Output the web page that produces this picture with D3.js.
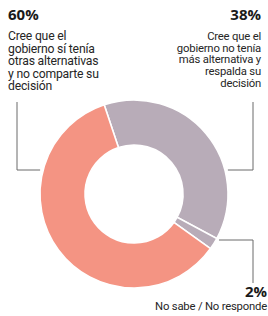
<!DOCTYPE html>
<html>
<head>
<meta charset="utf-8">
<script src="https://cdn.jsdelivr.net/npm/d3@7"></script>
<style>
  html, body { margin: 0; padding: 0; background: #fff; }
  svg { display: block; font-family: Roboto, "Open Sans", sans-serif; }
  .pct { font-family: "Open Sans", sans-serif; font-weight: 700; font-size: 15px; fill: #1a1a1a; }
  .desc { fill: #262626; letter-spacing: -0.2px; }
  .leader { fill: none; stroke: #6a6a6a; stroke-width: 1; }
</style>
</head>
<body>
<svg class="chart"></svg>
<script>
const canvas = {width: 268, height: 316};

// data, clockwise from the top boundary
const categories = ["respalda", "nosabe", "comparte"];
const values = [38, 2, 60];
const pctLabels = ["38%", "2%", "60%"];
const sliceColors = ["#b8acb8", "#b8acb8", "#f49483"];

const descLeft = ["Cree que el", "gobierno sí tenía", "otras alternativas", "y no comparte su", "decisión"];
const descRight = ["Cree que el", "gobierno no tenía", "más alternativa y", "respalda su", "decisión"];
const descBottom = ["No sabe / No responde"];

const center = {x: 134, y: 194};
const outerR = 94, innerR = 49;
const startDeg = -18.5;

const svg = d3.select(".chart")
    .attr("width", canvas.width)
    .attr("height", canvas.height);

const pie = d3.pie()
    .sort(null)
    .startAngle(startDeg * Math.PI / 180)
    .endAngle((startDeg + 360) * Math.PI / 180)
    .value(function (d) { return d; });

const arc = d3.arc().innerRadius(innerR).outerRadius(outerR);

const arcs = pie(values);

svg.append("g")
    .attr("transform", "translate(" + center.x + "," + center.y + ")")
    .selectAll("path")
    .data(arcs)
    .enter()
    .append("path")
    .attr("d", arc)
    .attr("fill", function (d, i) { return sliceColors[i]; })
    .attr("stroke", "#fff")
    .attr("stroke-width", 1.6);

// x of the ring edge (plus gap) at a given y, on one side
function edgeX(y, side) {
    const dy = y - center.y;
    return center.x + side * (Math.sqrt(outerR * outerR - dy * dy) + 3);
}

// leader lines
const leaders = [
    {x: 17, y0: 102, y1: 170, side: -1},
    {x: 253, y0: 102, y1: 170, side: 1},
    {x: 253, y0: 283, y1: 240, side: 1}
];
leaders.forEach(function (l) {
    svg.append("path")
        .classed("leader", true)
        .attr("d", "M" + l.x + "," + l.y0 + "V" + l.y1 + "H" + edgeX(l.y1, l.side));
});

// labels
function block(x, y, anchor, pct, lines, size, lh) {
    svg.append("text")
        .classed("pct", true)
        .attr("x", x).attr("y", y)
        .attr("text-anchor", anchor)
        .text(pct);
    lines.forEach(function (s, i) {
        svg.append("text")
            .classed("desc", true)
            .attr("text-anchor", anchor)
            .style("font-size", size + "px")
            .attr("x", x)
            .attr("y", y + 20 + i * lh)
            .text(s);
    });
}

block(8, 20, "start", pctLabels[2], descLeft, 12.2, 12.6);
block(261, 20, "end", pctLabels[0], descRight, 11.3, 11.7);

svg.append("text")
    .classed("pct", true)
    .attr("x", 267).attr("y", 297)
    .attr("text-anchor", "end")
    .text(pctLabels[1]);
svg.append("text")
    .classed("desc", true)
    .attr("x", 267).attr("y", 310)
    .attr("text-anchor", "end")
    .style("font-size", "11.3px")
    .text(descBottom[0]);
</script>
</body>
</html>
